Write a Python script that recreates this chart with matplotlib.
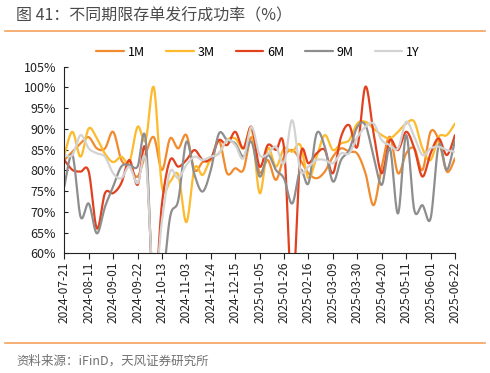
import matplotlib
matplotlib.use("Agg")
import matplotlib.pyplot as plt
from matplotlib.lines import Line2D
import numpy as np
import pandas as pd

plt.rcParams["font.family"] = ["Noto Sans CJK SC", "DejaVu Sans"]

# weekly observation dates
DATES = pd.date_range("2024-07-21", "2025-06-22", freq="7D")

SERIES_NAMES = ["1M", "3M", "6M", "9M", "1Y"]

ONE_M = [82.5, 84.5, 86.5, 88.0, 85.3, 85.3, 89.3, 82.5, 81.0, 78.5,
         84.0, 88.0, 80.1, 87.7, 85.3, 88.5, 80.1, 82.0, 82.5, 87.3,
         79.3, 80.5, 80.1, 88.0, 79.5, 82.5, 77.7, 83.3, 84.9, 82.5,
         79.3, 78.1, 79.7, 83.3, 85.3, 84.5, 84.0, 79.3, 71.6, 80.9,
         88.1, 79.3, 84.1, 85.3, 80.1, 89.3, 87.3, 79.7, 82.9]
THREE_M = [83.7, 89.3, 83.3, 90.1, 87.7, 84.0, 82.0, 83.3, 82.0, 90.5,
           87.3, 100.0, 76.1, 77.3, 78.9, 67.5, 80.5, 78.9, 82.9, 84.1,
           87.3, 87.7, 85.3, 90.0, 74.5, 85.3, 80.9, 85.3, 84.5, 86.1,
           78.1, 83.3, 88.5, 84.9, 86.5, 87.3, 91.3, 91.7, 90.1, 88.5,
           87.7, 89.3, 91.3, 91.7, 85.3, 82.5, 88.1, 88.5, 91.3]
SIX_M = [82.5, 80.1, 79.7, 79.7, 66.0, 74.5, 74.5, 76.9, 82.5, 76.5,
         84.9, 50.0, 72.0, 82.5, 80.9, 82.5, 84.9, 82.5, 82.9, 87.3,
         86.1, 89.3, 85.3, 90.5, 80.9, 86.1, 84.9, 85.3, 50.0, 83.3,
         81.7, 84.1, 84.9, 79.3, 88.1, 90.9, 85.7, 100.2, 88.9, 79.3,
         87.3, 84.9, 89.3, 85.3, 78.5, 84.1, 87.7, 83.7, 88.5]
NINE_M = [76.1, 83.7, 68.8, 72.0, 64.8, 71.2, 76.1, 80.9, 81.3, 80.9,
          87.3, 47.0, 52.0, 68.8, 72.8, 86.9, 78.9, 74.9, 80.1, 88.9,
          87.3, 86.5, 83.3, 86.9, 78.5, 83.7, 80.1, 78.0, 72.0, 80.1,
          76.9, 88.9, 85.7, 77.3, 82.5, 84.9, 90.5, 90.9, 83.3, 76.5,
          85.3, 69.6, 88.5, 70.4, 71.6, 68.4, 86.1, 80.1, 87.3]
ONE_Y = [83.7, 83.7, 88.5, 85.3, 84.1, 83.3, 79.3, 78.1, 80.9, 76.9,
         82.5, 52.0, 68.0, 79.7, 78.1, 81.3, 83.3, 82.5, 83.3, 84.1,
         87.3, 86.1, 82.9, 90.5, 83.7, 84.0, 85.7, 81.7, 92.1, 80.1,
         80.9, 82.5, 82.5, 81.7, 84.1, 84.1, 88.0, 90.5, 91.3, 87.3,
         86.1, 85.3, 91.7, 88.1, 83.7, 85.3, 85.7, 84.9, 84.5]

COLORS = ["#F28A2E", "#FDBA2C", "#E2411E", "#8E8E8E", "#D3D3D3"]


def smooth(x, y, n=16):
    # Excel-style smoothed line: cubic bezier through every point
    x = np.asarray(x, float)
    y = np.asarray(y, float)
    last = len(x) - 1
    xs, ys = [], []
    t = np.linspace(0, 1, n, endpoint=False)
    for i in range(last):
        a = max(i - 1, 0)
        b = min(i + 2, last)
        c1x = x[i] + (x[i + 1] - x[a]) / 6
        c1y = y[i] + (y[i + 1] - y[a]) / 6
        c2x = x[i + 1] - (x[b] - x[i]) / 6
        c2y = y[i + 1] - (y[b] - y[i]) / 6
        u = 1 - t
        xs.append(u**3 * x[i] + 3 * u**2 * t * c1x + 3 * u * t**2 * c2x + t**3 * x[i + 1])
        ys.append(u**3 * y[i] + 3 * u**2 * t * c1y + 3 * u * t**2 * c2y + t**3 * y[i + 1])
    xs.append([x[-1]])
    ys.append([y[-1]])
    return np.concatenate(xs), np.concatenate(ys)


fig = plt.figure(figsize=(4.9, 3.73), dpi=100)
ax = fig.add_axes([64.3 / 490, 1 - 253.3 / 373, (455 - 64.3) / 490, (253.3 - 66.7) / 373])

idx = np.arange(len(DATES))
for name, vals, color in zip(SERIES_NAMES, [ONE_M, THREE_M, SIX_M, NINE_M, ONE_Y], COLORS):
    sx, sy = smooth(idx, vals)
    ax.plot(sx, sy, color=color, lw=1.6, label=name, solid_capstyle="round")

ax.set_xlim(0, len(DATES) - 1)
ax.set_ylim(60, 105)
ax.set_yticks(np.arange(60, 106, 5))
ax.set_yticklabels([f"{v}%" for v in range(60, 106, 5)])
ax.set_xticks(idx[::3])
ax.set_xticklabels([d.strftime("%Y-%m-%d") for d in DATES[::3]], rotation=90)
ax.tick_params(axis="x", direction="out", length=4, width=0.8, pad=2, labelsize=8.6, colors="#222222")
ax.tick_params(axis="y", direction="in", length=3, width=0.8, pad=6, labelsize=9, colors="#222222")
for s in ["top", "right"]:
    ax.spines[s].set_visible(False)
for s in ["left", "bottom"]:
    ax.spines[s].set_color("#222222")
    ax.spines[s].set_linewidth(0.8)

fig.legend(loc="center", bbox_to_anchor=(258 / 490, 1 - 52 / 373), ncol=5, frameon=False,
           fontsize=9, handlelength=2.2, handletextpad=0.3, columnspacing=1.7)

fig.text(16 / 490, 1 - 16 / 373, "图 41：不同期限存单发行成功率（%）", fontsize=11.5,
         color="#4a4a4a", va="center", ha="left")
fig.add_artist(Line2D([5 / 490, 485 / 490], [1 - 31 / 373] * 2, color="#F4A25C", lw=1.2))
fig.add_artist(Line2D([5 / 490, 485 / 490], [1 - 343 / 373] * 2, color="#F4A25C", lw=1.2))
fig.text(16 / 490, 1 - 361 / 373, "资料来源：iFinD，天风证券研究所", fontsize=9,
         color="#707070", va="center", ha="left")

fig.savefig("out.png", dpi=100)
